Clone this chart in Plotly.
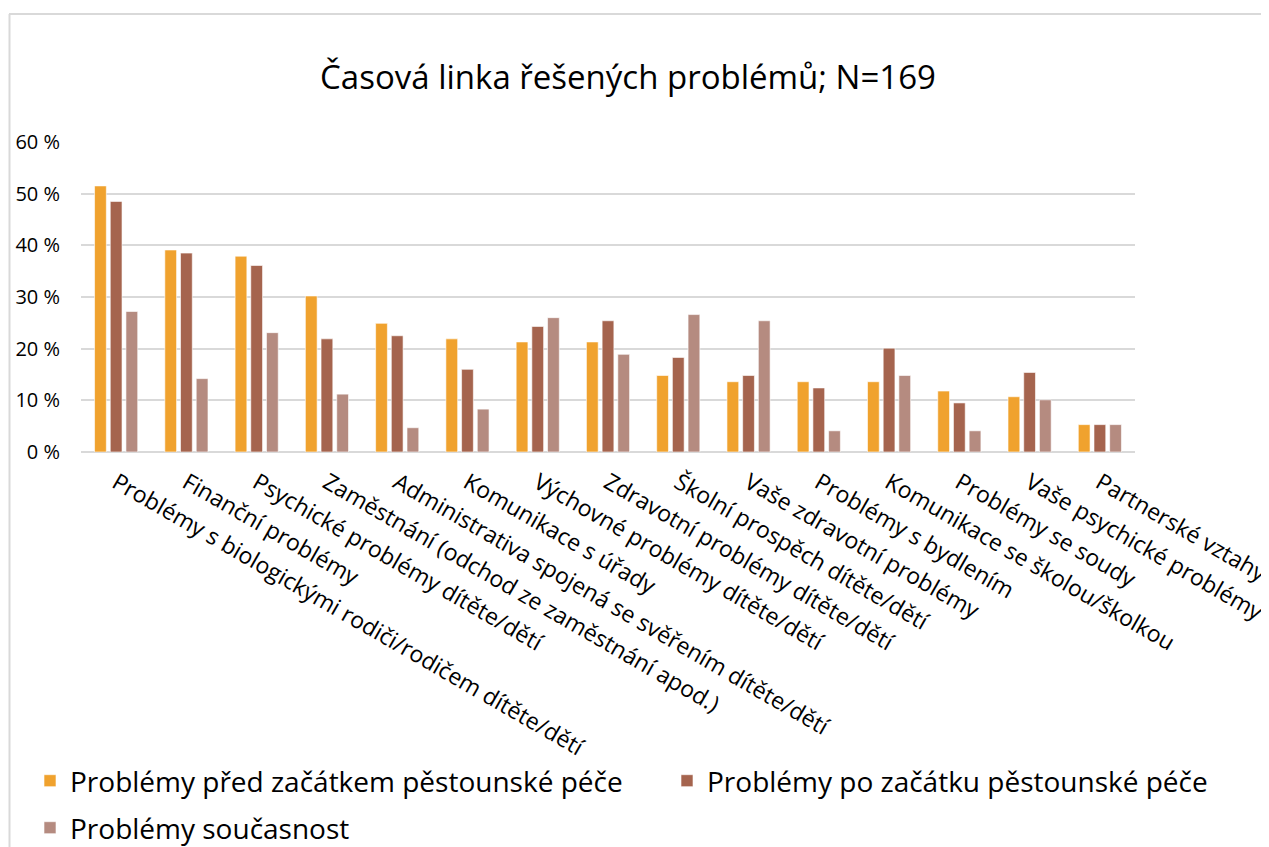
import plotly.graph_objects as go

categories = [
    "Problémy s biologickými rodiči/rodičem dítěte/dětí",
    "Finanční problémy",
    "Psychické problémy dítěte/dětí",
    "Zaměstnání (odchod ze zaměstnání apod.)",
    "Administrativa spojená se svěřením dítěte/dětí",
    "Komunikace s úřady",
    "Výchovné problémy dítěte/dětí",
    "Zdravotní problémy dítěte/dětí",
    "Školní prospěch dítěte/dětí",
    "Vaše zdravotní problémy",
    "Problémy s bydlením",
    "Komunikace se školou/školkou",
    "Problémy se soudy",
    "Vaše psychické problémy",
    "Partnerské vztahy",
]
before = [51.5, 39.1, 37.9, 30.2, 24.9, 21.9, 21.3, 21.3, 14.8, 13.6, 13.6, 13.6, 11.8, 10.7, 5.3]
after = [48.5, 38.5, 36.1, 21.9, 22.5, 16.0, 24.3, 25.4, 18.3, 14.8, 12.4, 20.1, 9.5, 15.4, 5.3]
now = [27.2, 14.2, 23.1, 11.2, 4.7, 8.3, 26.0, 18.9, 26.6, 25.4, 4.1, 14.8, 4.1, 10.1, 5.3]

series_names = [
    "Problémy před začátkem pěstounské péče",
    "Problémy po začátku pěstounské péče",
    "Problémy současnost",
]
colors = ["#F0A22E", "#A5644E", "#B58B80"]
legend_ids = ["legend", "legend2", "legend3"]

FONT = "Open Sans"
OFF = 8  # page body margin
W, H = 1269 - OFF, 847 - OFF
# plot area in screen pixels
X0, X1, Y0, Y1 = 81, 1135, 142, 452
L, R, T, B = X0 - OFF, W - (X1 - OFF), Y0 - OFF, H - (Y1 - OFF)

fig = go.Figure()
for name, vals, col, lg in zip(series_names, [before, after, now], colors, legend_ids):
    fig.add_trace(go.Bar(
        x=categories, y=vals, name=name, legend=lg,
        marker=dict(color=col, line=dict(color="rgba(255,255,255,0.6)", width=1)),
    ))

pw = W - L - R
ph = H - T - B
def px_x(p):
    return (p - OFF - L) / pw
def px_y(p):
    return (H - B - (p - OFF)) / ph
def cx(p):
    return (p - OFF) / W
def cy(p):
    return 1 - (p - OFF) / H

legend_font = dict(size=28, family=FONT, color="#000000")
def leg(xp, yp):
    return dict(orientation="h", x=cx(xp), xref="container", xanchor="left",
                y=cy(yp), yref="container", yanchor="middle", font=legend_font,
                bgcolor="rgba(0,0,0,0)")

fig.update_layout(
    width=W, height=H,
    margin=dict(l=L, r=R, t=T, b=B),
    paper_bgcolor="white", plot_bgcolor="white",
    font=dict(family=FONT, color="#000000"),
    title=dict(text="Časová linka řešených problémů; N=169", x=cx(628), xanchor="center",
               y=cy(77), yanchor="middle", xref="container", yref="container",
               font=dict(size=33, family=FONT, color="#000000")),
    barmode="group", bargap=0.33, bargroupgap=0.25,
    showlegend=True,
    legend=leg(30, 781),
    legend2=leg(667, 781),
    legend3=leg(30, 828),
    xaxis=dict(tickangle=30, tickfont=dict(size=23, family=FONT, color="#000000"),
               showgrid=False, showline=False, ticks="", automargin=False,
               ticklabelstandoff=12),
    yaxis=dict(range=[0, 60], dtick=10, ticksuffix=" %", showgrid=True,
               gridcolor="#D9D9D9", gridwidth=1.5, zeroline=True, zerolinecolor="#D9D9D9",
               zerolinewidth=1.5, tickfont=dict(size=20, family=FONT, color="#000000"),
               ticklabelstandoff=20, automargin=False, fixedrange=True),
    shapes=[
        dict(type="line", xref="paper", yref="paper", x0=px_x(9), x1=px_x(1275),
             y0=px_y(14), y1=px_y(14), line=dict(color="#D9D9D9", width=2)),
        dict(type="line", xref="paper", yref="paper", x0=px_x(9.5), x1=px_x(9.5),
             y0=px_y(14), y1=px_y(860), line=dict(color="#D9D9D9", width=2)),
    ],
)

fig.write_html("out.html")
